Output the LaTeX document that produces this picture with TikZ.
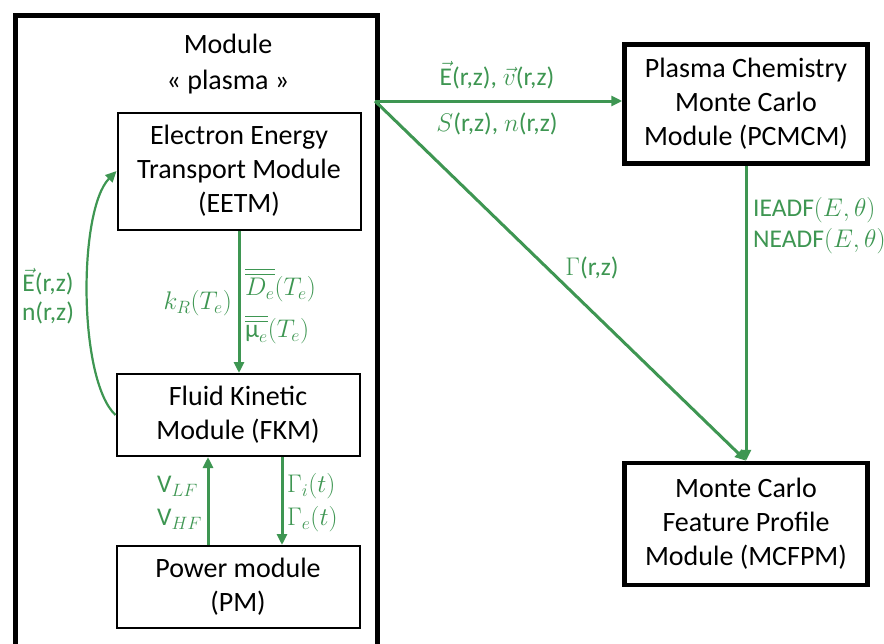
\documentclass[tikz,border=0pt]{standalone}
\usepackage{fix-cm}
\usepackage{amsmath}
\usepackage{fontspec}
\setmainfont{Carlito}
\usetikzlibrary{arrows.meta}
\definecolor{flowgreen}{RGB}{62,150,82}

\begin{document}
\begin{tikzpicture}[x=1pt, y=-1pt,
  box/.style={draw, line width=2pt, align=center, minimum width=243pt,
    inner sep=0pt, font=\fontsize{28}{34}\selectfont},
  thickbox/.style={box, line width=4.5pt},
  flow/.style={draw=flowgreen, line width=3pt, -{Triangle[length=11pt,width=10pt]}},
  lbl/.style={text=flowgreen, inner sep=0pt, font=\fontsize{25.5}{31}\selectfont}]
  \useasboundingbox (0,0) rectangle (884,643);
  \clip (0,0) rectangle (884,643);

  % Plasma module frame
  \node[draw, line width=5pt, minimum width=362pt, minimum height=700pt,
    anchor=north west] (plasma) at (13,13) {};
  \node[align=center, font=\fontsize{28}{36}\selectfont] (title) at (228,64)
    {Module\\« plasma »};

  % Modules
  \node[box, minimum height=117pt] (eetm) at (239,171) {Electron Energy\\Transport Module\\(EETM)};
  \node[box, minimum height=82pt] (fkm) at (238,415) {Fluid Kinetic\\Module (FKM)};
  \node[box, minimum height=82pt] (pm) at (238,587) {Power module\\(PM)};
  \node[thickbox, minimum height=119pt] (pcmcm) at (746,104) {Plasma Chemistry\\Monte Carlo\\Module (PCMCM)};
  \node[thickbox, minimum height=122pt] (mcfpm) at (746,524) {Monte Carlo\\Feature Profile\\Module (MCFPM)};

  % Exchanges
  \coordinate (out) at (375,101);
  \draw[flow] (out) -- (out -| pcmcm.west);
  \draw[flow] (out) -- (mcfpm.north);
  \draw[flow] (pcmcm.south) -- (mcfpm.north);
  \draw[flow] (eetm.south) -- (eetm.south |- fkm.north);
  \draw[flow] ([xshift=-30pt]pm.north) -- ([xshift=-30pt]pm.north |- fkm.south);
  \draw[flow] ([xshift=44pt]fkm.south) -- ([xshift=44pt]fkm.south |- pm.north);
  \draw[flow, line width=2.2pt] (fkm.west) .. controls (78,380) and (78,210) .. (eetm.west);

  % Labels
  \node[lbl] (evlbl) at (497,75) {$\vec{\text{E}}$(r,z), $\vec{v}$(r,z)};
  \node[lbl] (snlbl) at (497,124) {$S$(r,z), $n$(r,z)};
  \node[lbl] (gamlbl) at (592,268) {$\Gamma$(r,z)};
  \node[lbl, align=left, anchor=west] (adflbl) at (753,226) {IEADF$(E,\theta)$\\NEADF$(E,\theta)$};
  \node[lbl, anchor=east] (krlbl) at (232,303) {$k_R(T_e)$};
  \node[lbl, align=left, anchor=west, font=\fontsize{25.5}{42}\selectfont] (dmlbl) at (245,306)
    {$\overline{\overline{D_e}}(T_e)$\\$\overline{\overline{\text{μ}_e}}(T_e)$};
  \node[lbl, align=center, font=\fontsize{25.5}{29}\selectfont] (enlbl) at (48,296) {$\vec{\text{E}}$(r,z)\\n(r,z)};
  \node[lbl, align=left, anchor=east, font=\fontsize{25.5}{33}\selectfont] (vlbl) at (202,503) {V$_{LF}$\\V$_{HF}$};
  \node[lbl, align=left, anchor=west, font=\fontsize{25.5}{33}\selectfont] (glbl) at (287,503) {$\Gamma_i(t)$\\$\Gamma_e(t)$};
\end{tikzpicture}
\end{document}
